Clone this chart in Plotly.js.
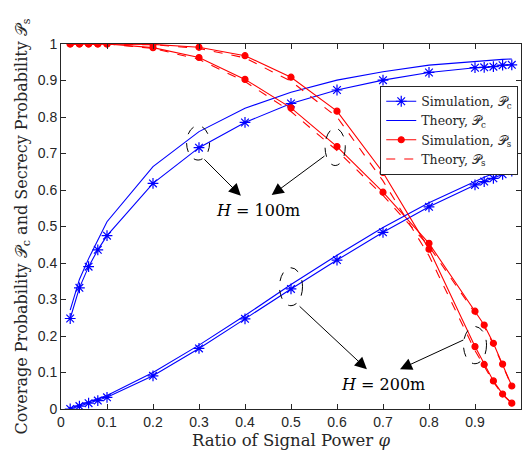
<!DOCTYPE html>
<html>
<head>
<meta charset="utf-8">
<script src="https://cdn.plot.ly/plotly-3.0.1.min.js"></script>
<style>html,body{margin:0;padding:0;background:#fff;}#chart{width:523px;height:462px;}</style>
</head>
<body>
<div id="chart"></div>
<script>
// Ratio of signal power phi
const phi = [0.02,0.04,0.06,0.08,0.1,0.2,0.3,0.4,0.5,0.6,0.7,0.8,0.9,0.92,0.94,0.96,0.98];

// Coverage probability, H = 100 m
const simPc100 = [0.248,0.332,0.390,0.436,0.475,0.618,0.716,0.785,0.837,0.874,0.901,0.922,0.935,0.936,0.938,0.942,0.943];
const thePc100 = [0.271,0.355,0.412,0.462,0.513,0.664,0.760,0.824,0.868,0.901,0.924,0.942,0.953,0.955,0.957,0.958,0.959];
// Coverage probability, H = 200 m
const simPc200 = [0.000,0.008,0.016,0.023,0.032,0.091,0.166,0.247,0.329,0.408,0.484,0.554,0.614,0.623,0.632,0.643,0.652];
const thePc200 = [0.003,0.011,0.020,0.028,0.037,0.100,0.175,0.256,0.341,0.421,0.497,0.565,0.625,0.635,0.645,0.656,0.666];
// Secrecy probability, H = 100 m
const simPs100 = [1,1,1,1,1,0.990,0.963,0.903,0.825,0.719,0.594,0.454,0.268,0.230,0.180,0.123,0.063];
const thePs100 = [1,1,1,1,1,0.988,0.958,0.897,0.815,0.708,0.585,0.446,0.262,0.226,0.177,0.121,0.062];
// Secrecy probability, H = 200 m
const simPs200 = [1,1,1,1,1,0.999,0.991,0.968,0.909,0.816,0.648,0.438,0.171,0.122,0.077,0.041,0.016];
const thePs200 = [1,1,1,1,1,0.998,0.988,0.962,0.898,0.800,0.625,0.420,0.160,0.117,0.074,0.039,0.015];

const legendNames = ['Simulation, 𝒫<sub>c</sub>','Theory, 𝒫<sub>c</sub>','Simulation, 𝒫<sub>s</sub>','Theory, 𝒫<sub>s</sub>'];

const BLUE = '#0000FF', RED = '#FF0000';
function sim(y, color, sym, size, name, show){
  return {x: phi, y: y, type:'scatter', mode:'lines+markers', name: name, showlegend: show,
    line:{color: color, width:1.1},
    marker:{symbol: sym, size: size, color: color, line:{color: color, width:1.2}}};
}
function the(y, color, dash, name, show){
  return {x: phi, y: y, type:'scatter', mode:'lines', name: name, showlegend: show,
    line:{color: color, width:1.1, dash: dash}};
}
const data = [
  sim(simPc100, BLUE, 'asterisk-open', 9, legendNames[0], true),
  the(thePc100, BLUE, 'solid', legendNames[1], true),
  sim(simPs100, RED, 'circle', 6, legendNames[2], true),
  the(thePs100, RED, 'dash', legendNames[3], true),
  sim(simPc200, BLUE, 'asterisk-open', 9, legendNames[0], false),
  the(thePc200, BLUE, 'solid', legendNames[1], false),
  sim(simPs200, RED, 'circle', 6, legendNames[2], false),
  the(thePs200, RED, 'dash', legendNames[3], false)
];

const serif = 'DejaVu Serif, Liberation Serif, serif';
const ellipse = (x0,x1,y0,y1) => ({type:'circle', xref:'x', yref:'y', x0:x0, x1:x1, y0:y0, y1:y1,
  line:{color:'#000', width:1, dash:'dash'}});
const arrow = (ax,ay,x,y) => ({x:x, y:y, ax:ax, ay:ay, xref:'x', yref:'y', axref:'x', ayref:'y',
  text:'', showarrow:true, arrowhead:2, arrowsize:2.4, arrowwidth:1, arrowcolor:'#000'});

const layout = {
  width:523, height:462,
  margin:{l:61, r:2, t:44, b:53},
  paper_bgcolor:'#fff', plot_bgcolor:'#fff',
  font:{family:'Liberation Sans, Arial, sans-serif', color:'#262626'},
  xaxis:{range:[0,1], tickvals:[0,0.1,0.2,0.3,0.4,0.5,0.6,0.7,0.8,0.9,1],
    ticktext:['0','0.1','0.2','0.3','0.4','0.5','0.6','0.7','0.8','0.9','1'],
    ticks:'inside', ticklen:5, tickcolor:'#262626', showline:true, linecolor:'#262626', linewidth:1,
    mirror:'ticks', showgrid:false, zeroline:false, tickfont:{size:14, color:'#262626'},
    title:{text:'Ratio of Signal Power <i>φ</i>', font:{family:serif, size:16.5, color:'#262626'}, standoff:5}},
  yaxis:{range:[0,1], tickvals:[0,0.1,0.2,0.3,0.4,0.5,0.6,0.7,0.8,0.9,1],
    ticktext:['0','0.1','0.2','0.3','0.4','0.5','0.6','0.7','0.8','0.9','1'],
    ticks:'inside', ticklen:5, tickcolor:'#262626', showline:true, linecolor:'#262626', linewidth:1,
    mirror:'ticks', showgrid:false, zeroline:false, tickfont:{size:14, color:'#262626'},
    title:{text:'Coverage Probability 𝒫<sub>c</sub> and Secrecy Probability 𝒫<sub>s</sub>', font:{family:serif, size:16, color:'#262626'}, standoff:6}},
  legend:{x:0.994, y:0.886, xanchor:'right', yanchor:'top', bgcolor:'#fff',
    bordercolor:'#262626', borderwidth:1, font:{family:serif, size:12.5, color:'#262626'},
    tracegroupgap:0, itemwidth:30},
  shapes:[
    ellipse(0.273,0.323,0.682,0.776),
    ellipse(0.574,0.618,0.667,0.769),
    ellipse(0.475,0.525,0.283,0.387),
    ellipse(0.875,0.925,0.124,0.226)
  ],
  annotations:[
    arrow(0.3085,0.688,0.391,0.584),
    arrow(0.576,0.696,0.458,0.586),
    arrow(0.5155,0.285,0.665,0.109),
    arrow(0.878,0.191,0.737,0.109),
    {x:0.429, y:0.545, xref:'x', yref:'y', text:'<i>H</i> = 100m', showarrow:false,
      font:{family:serif, size:16, color:'#000'}},
    {x:0.700, y:0.066, xref:'x', yref:'y', text:'<i>H</i> = 200m', showarrow:false,
      font:{family:serif, size:16, color:'#000'}}
  ]
};

Plotly.newPlot('chart', data, layout, {displayModeBar:false, staticPlot:true});
</script>
</body>
</html>
